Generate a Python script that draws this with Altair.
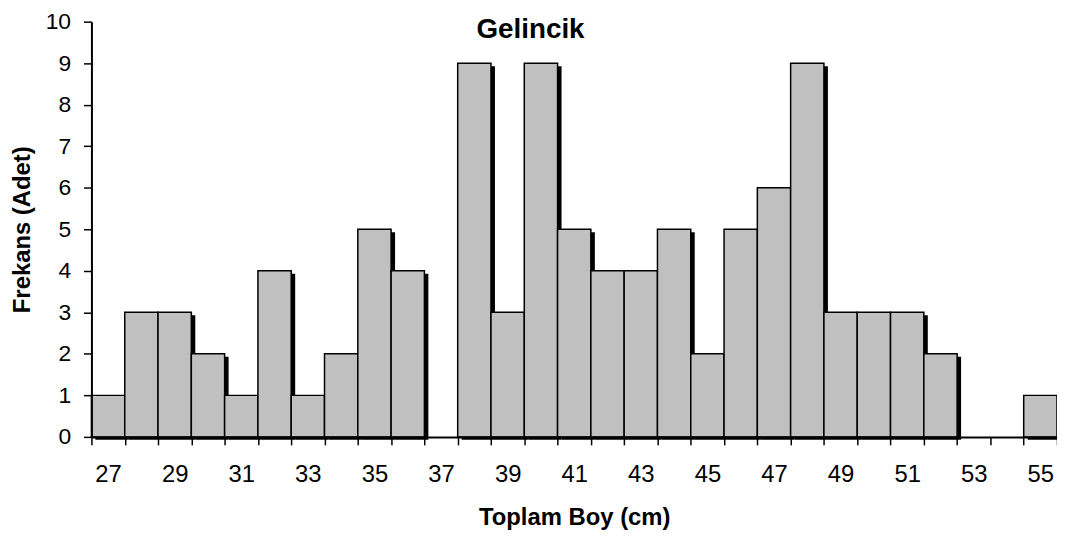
import altair as alt
import pandas as pd

lengths = list(range(27, 56))
counts = [1, 3, 3, 2, 1, 4, 1, 2, 5, 4, 0, 9, 3, 9, 5, 4, 4, 5, 2, 5, 6, 9, 3, 3, 3, 2, 0, 0, 1]
chart_title = "Gelincik"
x_title = "Toplam Boy (cm)"
y_title = "Frekans (Adet)"

df = pd.DataFrame({"boy": lengths, "frekans": counts})
df = df[df["frekans"] > 0]

FONT = "Liberation Sans"

x_enc = alt.X(
    "boy:O",
    sort=lengths,
    scale=alt.Scale(domain=lengths, paddingInner=0, paddingOuter=0),
    axis=alt.Axis(
        title=x_title,
        labelAngle=0,
        tickBand="extent",
        labelExpr="datum.value % 2 == 1 ? datum.label : ''",
        labelFont=FONT,
        labelFontSize=24,
        labelColor="black",
        labelPadding=18,
        tickSize=8,
        tickColor="black",
        tickWidth=1.5,
        domainColor="black",
        domainWidth=2,
        titleFont=FONT,
        titleFontSize=24,
        titleFontWeight="bold",
        titleColor="black",
        titlePadding=19,
        zindex=1,
    ),
)
y_enc = alt.Y(
    "frekans:Q",
    scale=alt.Scale(domain=[0, 10], nice=False),
    axis=alt.Axis(
        title=y_title,
        values=list(range(0, 11)),
        grid=False,
        labelFont=FONT,
        labelFontSize=23,
        labelColor="black",
        labelPadding=13,
        tickSize=8,
        tickColor="black",
        tickWidth=1.5,
        domainColor="black",
        domainWidth=2,
        titleFont=FONT,
        titleFontSize=24,
        titleFontWeight="bold",
        titleColor="black",
        titlePadding=11,
        zindex=1,
    ),
)

base = alt.Chart(df)
shadow = base.mark_bar(color="black", xOffset=4, yOffset=3).encode(x=x_enc, y=y_enc)
bars = base.mark_bar(color="#c0c0c0", stroke="black", strokeWidth=1.5).encode(x=x_enc, y=y_enc)
title = alt.Chart(pd.DataFrame({"t": [chart_title]})).mark_text(
    font=FONT, fontSize=28, fontWeight="bold", color="black", baseline="middle"
).encode(text="t:N", x=alt.value(442), y=alt.value(8))

chart = alt.layer(shadow, bars, title).properties(
    width=972,
    height=418,
    autosize=alt.AutoSizeParams(type="none"),
    padding={"left": 84, "top": 12, "right": 0, "bottom": 96},
).configure_view(stroke=None)

chart.save("out.html", embed_options={"renderer": "svg", "actions": False})
